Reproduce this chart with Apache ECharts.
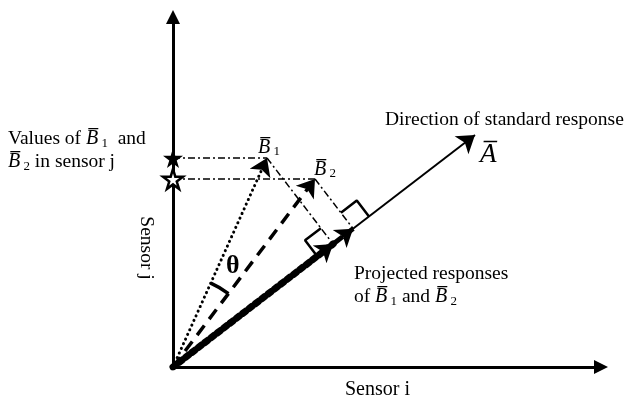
<!DOCTYPE html>
<html><head><meta charset="utf-8">
<script src="https://cdn.jsdelivr.net/npm/echarts@6/dist/echarts.min.js"></script>
<style>html,body{margin:0;padding:0;background:#fff}#c{width:629px;height:404px}</style>
</head><body><div id="c"></div>
<script>
// ---- data (sensor response units) ----
const origin = [0, 0];
const vecA = [302, 232];      // direction of standard response
const vecB1 = [94, 209];      // response B1
const vecB2 = [142, 188];     // response B2
const axisMaxX = 428;
const axisMaxY = 350;
const thetaRadius = 92;
const squareSide = 20;

// ---- geometry derived from data ----
const lenA = Math.hypot(vecA[0], vecA[1]);
const u = [vecA[0] / lenA, vecA[1] / lenA];
const n = [-u[1], u[0]];
function proj(b) { const d = b[0] * u[0] + b[1] * u[1]; return [d * u[0], d * u[1]]; }
const projB1 = proj(vecB1);
const projB2 = proj(vecB2);
function add(p, a, sa, b, sb) { return [p[0] + a[0] * sa + b[0] * sb, p[1] + a[1] * sa + b[1] * sb]; }
const sq1 = [add(projB1, u, -squareSide, n, 0), add(projB1, u, -squareSide, n, squareSide), add(projB1, u, 0, n, squareSide)];
const sq2 = [add(projB2, u, squareSide, n, 0), add(projB2, u, squareSide, n, squareSide), add(projB2, u, 0, n, squareSide)];

const SERIF = '"Liberation Serif", "DejaVu Serif", serif';
const starPath = 'path://M50,0 L61,35 L98,35 L68,57 L79,91 L50,70 L21,91 L32,57 L2,35 L39,35 Z';

function vecLine(a, b, style, arrowSize) {
  return {
    type: 'lines', coordinateSystem: 'cartesian2d', silent: true,
    symbol: ['none', arrowSize ? 'arrow' : 'none'], symbolSize: arrowSize || 0,
    lineStyle: Object.assign({ color: '#000', opacity: 1 }, style),
    data: [{ coords: [a, b] }], z: 3
  };
}

const chart = echarts.init(document.getElementById('c'), null, { renderer: 'canvas' });
const rs = {
  r: { fontFamily: SERIF, fontSize: 19.5, fill: '#000', color: '#000' },
  i: { fontFamily: SERIF, fontSize: 20, fontStyle: 'italic', fill: '#000', color: '#000' },
  s: { fontFamily: SERIF, fontSize: 13, fill: '#000', color: '#000', verticalAlign: 'bottom' }
};
chart.setOption({
  animation: false,
  grid: { left: 173, right: 629 - 173 - axisMaxX, top: 367 - axisMaxY, bottom: 37 },
  xAxis: {
    type: 'value', min: 0, max: axisMaxX,
    axisLine: { show: true, onZero: false, symbol: ['none', 'triangle'], symbolSize: [14, 14], lineStyle: { color: '#000', width: 3 } },
    axisTick: { show: false }, axisLabel: { show: false }, splitLine: { show: false }
  },
  yAxis: {
    type: 'value', min: 0, max: axisMaxY,
    axisLine: { show: true, onZero: false, symbol: ['none', 'triangle'], symbolSize: [14, 14], lineStyle: { color: '#000', width: 3 } },
    axisTick: { show: false }, axisLabel: { show: false }, splitLine: { show: false }
  },
  series: [
    vecLine(origin, vecA, { width: 2, type: 'solid' }, 17),
    vecLine([0, vecB1[1]], vecB1, { width: 1.5, type: [7, 3, 2, 3] }, 0),
    vecLine([0, vecB2[1]], vecB2, { width: 1.5, type: [7, 3, 2, 3] }, 0),
    vecLine(vecB1, projB1, { width: 1.5, type: [7, 3, 2, 3] }, 0),
    vecLine(vecB2, projB2, { width: 1.5, type: [7, 3, 2, 3] }, 0),
    vecLine(origin, vecB1, { width: 3, type: [0.1, 5], cap: 'round' }, 17),
    vecLine(origin, vecB2, { width: 3.5, type: [12, 8] }, 17),
    vecLine(origin, projB1, { width: 7, type: [4, 4], cap: 'round' }, 17),
    vecLine(origin, projB2, { width: 5, type: [14, 6] }, 17),
    { type: 'line', data: sq1, symbol: 'none', silent: true, lineStyle: { color: '#000', width: 2.5 }, z: 3 },
    { type: 'line', data: sq2, symbol: 'none', silent: true, lineStyle: { color: '#000', width: 2.5 }, z: 3 },
    {
      type: 'custom', silent: true, z: 4,
      data: [[0, 0]],
      renderItem: function (params, api) {
        const c = api.coord([0, 0]);
        const r = api.size([thetaRadius, 0])[0];
        const a1 = -Math.atan2(vecB1[1], vecB1[0]);
        const a2 = -Math.atan2(vecB2[1], vecB2[0]);
        return { type: 'arc', shape: { cx: c[0], cy: c[1], r: r, startAngle: a1, endAngle: a2, clockwise: true },
                 style: { stroke: '#000', lineWidth: 3.5, fill: null } };
      }
    },
    {
      type: 'scatter', silent: true, z: 5, symbol: starPath, symbolSize: 20,
      data: [{ value: [0, vecB1[1]], itemStyle: { color: '#000', opacity: 1 } },
             { value: [0, vecB2[1]], itemStyle: { color: '#fff', borderColor: '#000', borderWidth: 2.5, opacity: 1 } }]
    }
  ],
  graphic: [
    { type: 'text', x: 8, y: 127, z: 10, style: { text: '{r|Values of }{i|B\u0305}{s| 1}{r|  and}\n{i|B\u0305}{s| 2}{r| in sensor j}', rich: rs, lineHeight: 23 } },
    { type: 'text', x: 146, y: 248, rotation: -Math.PI / 2, z: 10, style: { text: 'Sensor j', font: '19.5px ' + SERIF, fill: '#000', align: 'center', verticalAlign: 'middle' } },
    { type: 'text', x: 385, y: 110, z: 10, style: { text: 'Direction of standard response', font: '19.5px ' + SERIF, fill: '#000' } },
    { type: 'text', x: 480, y: 141, z: 10, style: { text: 'A\u0305', font: 'italic 27px ' + SERIF, fill: '#000' } },
    { type: 'text', x: 258, y: 138, z: 10, style: { text: '{i|B\u0305}{s| 1}', rich: rs } },
    { type: 'text', x: 314, y: 160, z: 10, style: { text: '{i|B\u0305}{s| 2}', rich: rs } },
    { type: 'text', x: 226, y: 253, z: 10, style: { text: '\u03B8', font: 'bold 26px ' + SERIF, fill: '#000' } },
    { type: 'text', x: 354, y: 262, z: 10, style: { text: '{r|Projected responses}\n{r|of }{i|B\u0305}{s| 1}{r| and }{i|B\u0305}{s| 2}', rich: rs, lineHeight: 23 } },
    { type: 'text', x: 345, y: 380, z: 10, style: { text: 'Sensor i', font: '20px ' + SERIF, fill: '#000' } }
  ]
});
</script></body></html>
